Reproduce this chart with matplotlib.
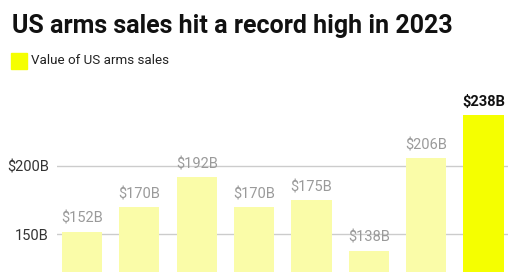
import matplotlib
matplotlib.use('Agg')
import matplotlib.pyplot as plt
from matplotlib.patches import Rectangle

# data
years = ["2016", "2017", "2018", "2019", "2020", "2021", "2022", "2023"]
sales = [152, 170, 192, 170, 175, 138, 206, 238]
value_labels = ["$152B", "$170B", "$192B", "$170B", "$175B", "$138B", "$206B", "$238B"]
tick_values = [150, 200]
tick_labels = ["150B", "$200B"]

plt.rcParams['font.family'] = ['Roboto', 'DejaVu Sans']

fig = plt.figure(figsize=(5.2, 2.72), dpi=100)
W, H = 520, 272

# axes placed in pixel terms: gridlines span x 57..508, top at y=100
ax = fig.add_axes([57 / W, 0, (508 - 57) / W, (H - 100) / H])

light = "#fafca8"
hot = "#f5ff00"
colors = [light] * (len(sales) - 1) + [hot]
x = list(range(len(sales)))
ax.bar(x, sales, width=0.70, color=colors, zorder=2)

for i, (v, lab) in enumerate(zip(sales, value_labels)):
    last = i == len(sales) - 1
    ax.annotate(lab, (i, v), xytext=(0, 6.5), textcoords="offset points",
                ha="center", va="baseline", fontsize=10.5,
                color="#111111" if last else "#9a9a9a",
                fontweight="bold" if last else "normal")

ax.set_ylim(122.3, 248.8)
ax.set_xlim(-0.436, 7.427)
ax.set_yticks(tick_values)
ax.set_yticklabels(tick_labels, fontsize=10.5, color="#333333")
ax.tick_params(axis="y", length=0, pad=5.8)
ax.set_xticks([])
ax.grid(axis="y", color="#cccccc", linewidth=1, zorder=0)
for s in ax.spines.values():
    s.set_visible(False)

# title and legend
fig.text(12 / W, 1 - 33 / H, "US arms sales hit a record high in 2023",
         fontsize=18, fontweight="bold", color="#111111", va="baseline")
fig.patches.append(Rectangle((11 / W, 1 - 69 / H), 16 / W, 16 / H,
                             transform=fig.transFigure, color=hot))
fig.text(31 / W, 1 - 64 / H, "Value of US arms sales",
         fontsize=9.6, color="#222222", va="baseline")

fig.savefig("out.png", dpi=100)
plt.close()
